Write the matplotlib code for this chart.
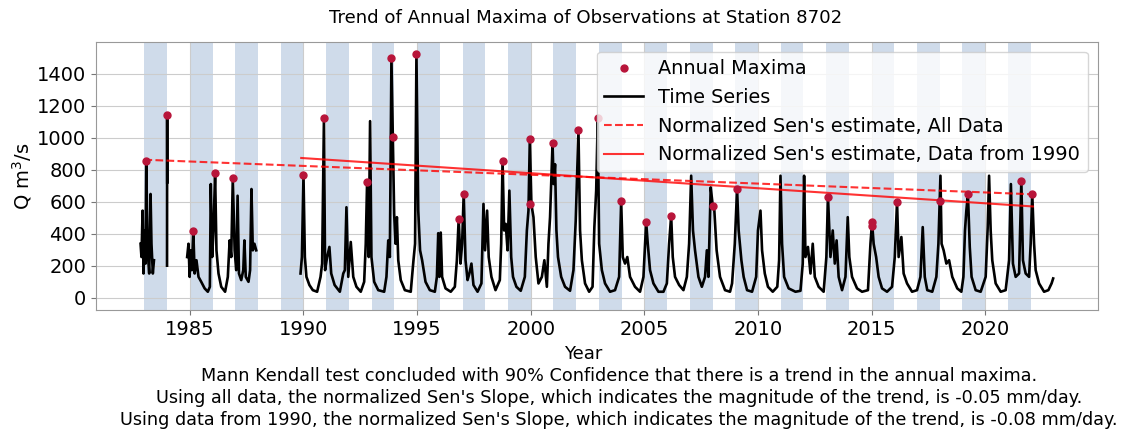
import numpy as np
import matplotlib.pyplot as plt

# daily discharge trace, one list pair per continuous record
seg1_year = [1982.83, 1982.87, 1982.92, 1982.96, 1983.01, 1983.05, 1983.08, 1983.14,
             1983.21, 1983.27, 1983.31, 1983.37, 1983.42]
seg1_q = [337, 254, 544, 151, 420, 213, 851, 296, 151, 648, 337, 151, 234]

seg2_year = [1983.995, 1984.0, 1984.004]
seg2_q = [200, 1140, 720]

seg3_year = [1984.88, 1984.94, 1984.99, 1985.03, 1985.09, 1985.15, 1985.21, 1985.29,
             1985.38, 1985.50, 1985.65, 1985.79, 1985.88, 1985.92, 1985.98, 1986.04,
             1986.11, 1986.17, 1986.26, 1986.38, 1986.55, 1986.67, 1986.75, 1986.82,
             1986.89, 1986.97, 1987.04, 1987.10, 1987.16, 1987.26, 1987.35, 1987.40,
             1987.46, 1987.58, 1987.65, 1987.71, 1987.77, 1987.84, 1987.92]
seg3_q = [254, 337, 130, 296, 172, 420, 151, 234, 130, 99, 58, 37, 68, 710, 254, 420,
          782, 296, 151, 68, 37, 130, 358, 254, 751, 296, 172, 637, 151, 110, 172, 358,
          130, 99, 172, 679, 296, 337, 296]

seg4_year = [
    1989.87, 1989.93, 1990.00, 1990.06, 1990.13, 1990.26, 1990.41, 1990.60, 1990.75, 1990.82,
    1990.90, 1990.95, 1991.04, 1991.14, 1991.22, 1991.37, 1991.60, 1991.75, 1991.82, 1991.89,
    1991.97, 1992.08, 1992.19, 1992.33, 1992.52, 1992.67, 1992.74, 1992.80, 1992.87, 1992.93,
    1992.99, 1993.11, 1993.29, 1993.55, 1993.65, 1993.73, 1993.80, 1993.87, 1993.93, 1993.99,
    1994.05, 1994.11, 1994.17, 1994.28, 1994.46, 1994.72, 1994.84, 1994.91, 1994.97, 1995.05,
    1995.13, 1995.22, 1995.37, 1995.56, 1995.78, 1995.87, 1995.93, 1995.98, 1996.04, 1996.10,
    1996.25, 1996.48, 1996.66, 1996.75, 1996.83, 1996.91, 1996.98, 1997.05, 1997.13, 1997.22,
    1997.30, 1997.39, 1997.48, 1997.66, 1997.83, 1997.92, 1997.99, 1998.08, 1998.15, 1998.27,
    1998.45, 1998.64, 1998.70, 1998.76, 1998.83, 1998.90, 1998.98, 1999.06, 1999.14, 1999.22,
    1999.37, 1999.56, 1999.74, 1999.83, 1999.90, 1999.96, 2000.03, 2000.12, 2000.22, 2000.34,
    2000.49, 2000.60, 2000.71, 2000.78, 2000.85, 2000.96, 2001.01, 2001.07, 2001.13, 2001.20,
    2001.34, 2001.51, 2001.73, 2001.88, 2001.98, 2002.10, 2002.17, 2002.25, 2002.39, 2002.57,
    2002.72, 2002.80, 2002.88, 2002.95, 2003.01, 2003.13, 2003.27, 2003.49, 2003.71, 2003.89,
    2003.98, 2004.05, 2004.15, 2004.25, 2004.37, 2004.59, 2004.81, 2004.96, 2005.08, 2005.15,
    2005.25, 2005.40, 2005.62, 2005.84, 2005.99, 2006.09, 2006.18, 2006.25, 2006.35, 2006.53,
    2006.72, 2006.87, 2006.97, 2007.06, 2007.14, 2007.23, 2007.38, 2007.53, 2007.67, 2007.75,
    2007.82, 2007.92, 2008.01, 2008.08, 2008.18, 2008.33, 2008.55, 2008.77, 2008.86, 2008.98,
    2009.08, 2009.15, 2009.27, 2009.37, 2009.52, 2009.74, 2009.92, 2010.00, 2010.11, 2010.18,
    2010.30, 2010.44, 2010.65, 2010.85, 2010.93, 2010.99, 2011.06, 2011.15, 2011.35, 2011.65,
    2011.87, 2011.97, 2012.03, 2012.09, 2012.20, 2012.31, 2012.41, 2012.50, 2012.67, 2012.89,
    2013.01, 2013.08, 2013.19, 2013.29, 2013.38, 2013.46, 2013.55, 2013.70, 2013.85, 2013.95,
    2014.02, 2014.14, 2014.36, 2014.58, 2014.84, 2014.95, 2015.02, 2015.09, 2015.20, 2015.31,
    2015.46, 2015.68, 2015.90, 2016.02, 2016.12, 2016.19, 2016.31, 2016.41, 2016.56, 2016.78,
    2017.00, 2017.15, 2017.25, 2017.34, 2017.45, 2017.67, 2017.85, 2017.94, 2018.03, 2018.08,
    2018.17, 2018.29, 2018.41, 2018.55, 2018.77, 2018.95, 2019.04, 2019.11, 2019.17, 2019.24,
    2019.32, 2019.40, 2019.58, 2019.80, 2020.02, 2020.11, 2020.17, 2020.24, 2020.31, 2020.46,
    2020.68, 2020.90, 2021.05, 2021.13, 2021.22, 2021.34, 2021.49, 2021.59, 2021.66, 2021.78,
    2021.93, 2022.00, 2022.07, 2022.15, 2022.22, 2022.37, 2022.59, 2022.78, 2022.92, 2022.99]
seg4_q = [
    151, 254, 765, 254, 130, 79, 47, 37, 130, 213,
    1120, 172, 254, 317, 151, 79, 37, 151, 172, 565,
    130, 348, 130, 68, 37, 99, 337, 731, 254, 1103,
    254, 99, 47, 37, 130, 358, 254, 1500, 1004, 524,
    337, 503, 234, 110, 47, 37, 234, 337, 1522, 544,
    296, 234, 99, 47, 37, 130, 403, 130, 407, 130,
    58, 37, 68, 234, 493, 213, 337, 648, 234, 110,
    151, 213, 79, 37, 89, 586, 296, 544, 254, 130,
    47, 110, 337, 855, 420, 461, 296, 669, 254, 130,
    68, 43, 130, 420, 544, 989, 583, 503, 254, 89,
    130, 234, 68, 337, 503, 965, 710, 834, 420, 254,
    130, 68, 43, 172, 482, 1047, 420, 234, 89, 37,
    68, 441, 669, 1124, 337, 172, 89, 37, 47, 130,
    602, 254, 213, 254, 130, 68, 37, 130, 472, 337,
    172, 89, 37, 37, 89, 337, 513, 254, 130, 79,
    47, 130, 337, 762, 420, 296, 130, 68, 130, 296,
    130, 689, 575, 544, 296, 130, 47, 37, 89, 337,
    679, 420, 234, 130, 47, 37, 130, 420, 544, 296,
    151, 68, 37, 68, 234, 762, 337, 130, 58, 37,
    43, 213, 762, 254, 317, 151, 337, 130, 68, 37,
    254, 631, 254, 420, 213, 358, 130, 47, 130, 503,
    254, 130, 58, 37, 47, 337, 472, 337, 254, 130,
    58, 37, 68, 254, 600, 254, 379, 151, 89, 37,
    47, 130, 441, 130, 47, 37, 130, 337, 762, 337,
    296, 213, 234, 130, 58, 37, 130, 420, 544, 648,
    317, 130, 47, 37, 130, 441, 762, 420, 234, 89,
    37, 47, 234, 710, 213, 130, 151, 732, 234, 151,
    130, 337, 648, 337, 172, 89, 37, 47, 89, 120]

# annual maxima
max_year = [1983.08, 1984.0, 1985.15, 1986.11, 1986.89, 1990.0, 1990.90, 1992.80,
            1993.87, 1993.93, 1994.97, 1996.83, 1997.05, 1998.76, 1999.96, 1999.97,
            2000.96, 2002.10, 2002.95, 2003.98, 2005.08, 2006.18, 2008.01, 2009.08,
            2013.08, 2015.01, 2015.03, 2016.12, 2018.03, 2019.24, 2021.59, 2022.07]
max_q = [851, 1140, 416, 776, 745, 765, 1120, 720,
         1500, 1004, 1522, 492, 648, 855, 989, 583,
         965, 1047, 1124, 602, 472, 513, 575, 679,
         631, 472, 445, 600, 606, 648, 732, 648]

# normalized Sen's estimate lines (start and end of each fit)
trend_all_year = [1983.0, 2022.1]
trend_all_q = [862, 646]
trend_1990_year = [1989.9, 2022.1]
trend_1990_q = [873, 570]

summary = [
    "Mann Kendall test concluded with 90% Confidence that there is a trend in the annual maxima.",
    "Using all data, the normalized Sen's Slope, which indicates the magnitude of the trend, is -0.05 mm/day.",
    "Using data from 1990, the normalized Sen's Slope, which indicates the magnitude of the trend, is -0.08 mm/day.",
]

gap = [np.nan]
t = np.array(seg1_year + gap + seg2_year + gap + seg3_year + gap + seg4_year)
q = np.array(seg1_q + gap + seg2_q + gap + seg3_q + gap + seg4_q)

fig = plt.figure(figsize=(11.27, 4.37), dpi=100)
ax = fig.add_axes([0.085, 0.291, 0.889, 0.613])

# shade every other year
for y0 in range(1983, 2022, 2):
    ax.axvspan(y0, y0 + 1, color='#cfdbea', lw=0, zorder=0)

ts, = ax.plot(t, q, color='black', lw=1.9, zorder=2, label='Time Series')
am, = ax.plot(max_year, max_q, 'o', color='#b8153a', ms=5, zorder=4, label='Annual Maxima')
la, = ax.plot(trend_all_year, trend_all_q, '--', color='red', alpha=0.8, lw=1.5, zorder=3,
              label="Normalized Sen's estimate, All Data")
l9, = ax.plot(trend_1990_year, trend_1990_q, '-', color='red', alpha=0.8, lw=1.5, zorder=3,
              label="Normalized Sen's estimate, Data from 1990")

ax.set_xlim(1980.86, 2024.95)
ax.set_ylim(-76, 1598)
ax.set_xticks(range(1985, 2021, 5))
ax.set_yticks(range(0, 1401, 200))
ax.tick_params(labelsize=14, color='#777777')
ax.grid(True, color='#cccccc', lw=0.8)
ax.set_axisbelow(True)
for s in ax.spines.values():
    s.set_color('#999999')

ax.set_title('Trend of Annual Maxima of Observations at Station 8702', fontsize=13.1, pad=14,
             x=0.489)
ax.set_xlabel('Year', fontsize=13)
ax.xaxis.set_label_coords(0.486, -0.13)
ax.set_ylabel('Q m$^3$/s', fontsize=14)
ax.yaxis.set_label_coords(-0.062, 0.5)

ax.legend(handles=[am, ts, la, l9], loc='upper right', fontsize=13.9)

for i, line in enumerate(summary):
    fig.text(0.549, 1 - (376 + 22 * i) / 437, line, ha='center', va='center', fontsize=12.7)

fig.savefig('out.png', dpi=100)
